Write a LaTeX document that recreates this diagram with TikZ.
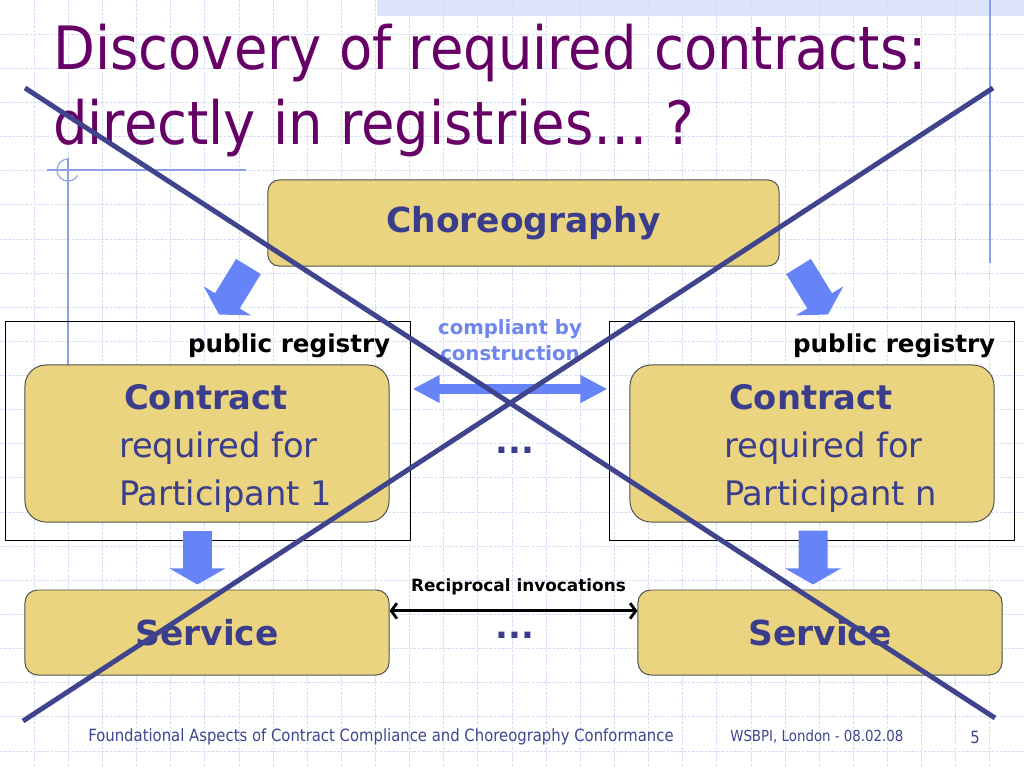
\documentclass[tikz,border=0pt]{standalone}
\usepackage{fontspec}
\setmainfont{DejaVu Sans}
\newfontfamily\slidecond[FakeStretch=0.88]{DejaVu Sans}
\newfontfamily\slidetitle[FakeStretch=0.91]{DejaVu Sans}
\usetikzlibrary{arrows.meta, positioning, calc}
\usepackage{xcolor}
\definecolor{titlepurple}{HTML}{660066}
\definecolor{boxfill}{HTML}{EAD480}
\definecolor{boxline}{HTML}{4F4F4F}
\definecolor{textblue}{HTML}{3A3D8C}
\definecolor{arrowblue}{HTML}{6683F7}
\definecolor{cmpblue}{HTML}{6F86EE}
\definecolor{crossblue}{HTML}{3F448C}
\definecolor{gridblue}{HTML}{D5DCF5}
\definecolor{decoblue}{HTML}{8C9FE6}
\definecolor{bandblue}{HTML}{DCE4FA}
\definecolor{footblue}{HTML}{3F4590}
\tikzset{
  gridline/.style={draw=gridblue, line width=0.5pt, dash pattern=on 2pt off 1pt},
  decoline/.style={draw=decoblue, line width=0.8pt},
  chorbox/.style={rectangle, draw=boxline, fill=boxfill, line width=0.7pt,
                  rounded corners=8pt, minimum width=12.775cm, minimum height=2.15cm,
                  font=\fontsize{24.5}{30}\selectfont\bfseries, text=textblue},
  contbox/.style={rectangle, draw=boxline, fill=boxfill, line width=0.7pt,
                  rounded corners=15pt, minimum width=9.1cm, minimum height=3.925cm,
                  align=left, font=\fontsize{24}{34}\selectfont, text=textblue},
  svcbox/.style={rectangle, draw=boxline, fill=boxfill, line width=0.7pt,
                 rounded corners=9pt, minimum width=9.1cm, minimum height=2.125cm,
                 font=\fontsize{24.5}{30}\selectfont\bfseries, text=textblue},
  regbox/.style={rectangle, draw=black, line width=0.7pt,
                 minimum width=10.1cm, minimum height=5.45cm},
  reglabel/.style={font=\fontsize{17.5}{21}\selectfont\bfseries, text=black, inner sep=0pt},
  cmplabel/.style={font=\fontsize{14}{18.4}\selectfont\bfseries, text=cmpblue,
                   align=center, inner sep=0pt},
  invlabel/.style={font=\fontsize{12}{14}\selectfont\bfseries, text=black, inner sep=0pt},
  dotsnode/.style={font=\fontsize{24}{28}\selectfont\bfseries, text=textblue, inner sep=0pt},
  blockarrow/.style={-{Triangle[length=0.4cm, width=1.375cm]}, line width=0.725cm, draw=arrowblue},
  wideboth/.style={{Triangle[length=0.675cm, width=0.65cm]}-{Triangle[length=0.675cm, width=0.65cm]},
                   line width=0.25cm, draw=arrowblue},
  invarrow/.style={{Straight Barb[length=4pt, width=11pt]}-{Straight Barb[length=4pt, width=11pt]},
                   line width=2pt, draw=black},
  crossline/.style={draw=crossblue, line width=3.5pt},
  titletext/.style={font=\slidetitle\fontsize{42.5}{53}\selectfont, text=titlepurple, inner sep=0pt},
  foottext/.style={font=\slidecond\fontsize{12}{14}\selectfont, text=footblue, inner sep=0pt},
}

\begin{document}
\begin{tikzpicture}[x=0.025cm, y=-0.025cm]
  \useasboundingbox (0,0) rectangle (1024,768);
  \fill[white] (0,0) rectangle (1024,768);

  % slide background
  \fill[bandblue] (377,0) rectangle (1024,16);
  \foreach \i in {1,...,29}
    \draw[gridline] (\i*34.13,0) -- (\i*34.13,768);
  \foreach \j in {1,...,22}
    \draw[gridline] (0,\j*34.13) -- (1024,\j*34.13);
  \draw[decoline] (990,0) -- (990,263);
  \draw[decoline] (47,170) -- (246,170);
  \draw[decoline] (68,158) -- (68,370);
  \draw[decoline] (68,159) arc[start angle=90, end angle=330, radius=0.275cm];

  % title
  \node[titletext, anchor=base west] (title1) at (53,70) {Discovery of required contracts:};
  \node[titletext, anchor=base west] (title2) at (53,145) {directly in registries… ?};

  % registries
  \node[regbox] (reg1) at (208,431) {};
  \node[regbox] (reg2) at (812,431) {};
  \node[reglabel, anchor=base east] (reg1lab) at ([xshift=-0.5cm, yshift=-0.775cm]reg1.north east) {public registry};
  \node[reglabel, anchor=base east] (reg2lab) at ([xshift=-0.475cm, yshift=-0.775cm]reg2.north east) {public registry};

  % boxes
  \node[chorbox] (chor) at (523.5,223) {Choreography};
  \node[contbox] (con1) at (207,443.5)
    {\rule{0pt}{25pt}\hspace*{29.9pt}\textbf{Contract}\\\hspace*{26.3pt}required for\\\hspace*{26.3pt}Participant 1};
  \node[contbox] (con2) at (812,443.5)
    {\rule{0pt}{25pt}\hspace*{29.9pt}\textbf{Contract}\\\hspace*{26.3pt}required for\\\hspace*{26.3pt}Participant n};
  \node[svcbox] (svc1) at (207,632.5) {Service};
  \node[svcbox] (svc2) at (820,632.5) {Service};

  % block arrows
  \draw[blockarrow] ([xshift=-0.475cm]chor.south west) -- ([xshift=0.275cm, yshift=0.175cm]reg1.north);
  \draw[blockarrow] ([xshift=0.475cm]chor.south east) -- ([xshift=0.4cm, yshift=0.175cm]reg2.north);
  \draw[blockarrow] ([xshift=-0.24cm, yshift=-0.2cm]con1.south) -- ([xshift=-0.24cm, yshift=0.125cm]svc1.north);
  \draw[blockarrow] ([xshift=0.025cm, yshift=-0.2cm]con2.south) -- ([xshift=-0.175cm, yshift=0.125cm]svc2.north);

  % links between participants
  \draw[wideboth] ([xshift=0.05cm, yshift=1.05cm]reg1.east) -- ([xshift=-0.05cm, yshift=1.05cm]reg2.west)
    node[cmplabel, midway, yshift=1.225cm] (cmp) {compliant by\\construction};
  \draw[invarrow] ([yshift=0.54cm]svc1.east) -- ([yshift=0.54cm]svc2.west)
    node[invlabel, midway, yshift=0.6cm, xshift=0.125cm] (inv) {Reciprocal invocations};
  \node[dotsnode] (dots1) at (515,450) {...};
  \node[dotsnode] (dots2) at (515,635) {...};

  % crossed out
  \coordinate (xa) at (25,88);
  \coordinate (xb) at (995,718);
  \coordinate (xc) at (993,88);
  \coordinate (xd) at (23,721);
  \draw[crossline] (xa) -- (xb);
  \draw[crossline] (xc) -- (xd);

  % footer
  \node[foottext, anchor=west] (foot1) at (88,737) {Foundational Aspects of Contract Compliance and Choreography Conformance};
  \node[foottext, anchor=west, font=\slidecond\fontsize{10.8}{13}\selectfont] (foot2) at (730,737) {WSBPI, London - 08.02.08};
  \node[foottext] (foot3) at (975,737) {5};
\end{tikzpicture}
\end{document}
